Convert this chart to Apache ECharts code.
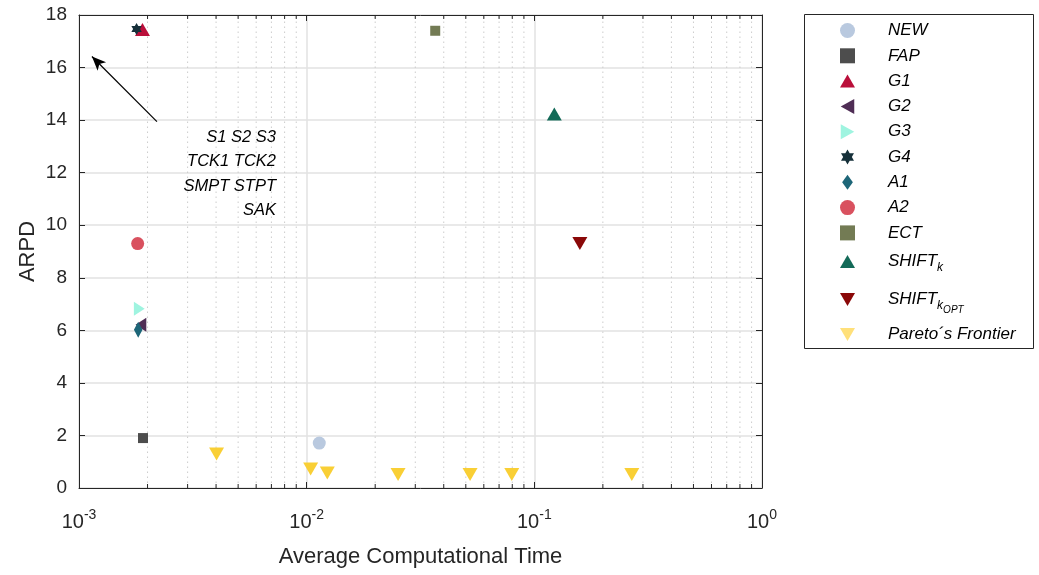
<!DOCTYPE html>
<html>
<head>
<meta charset="utf-8">
<script src="https://cdn.jsdelivr.net/npm/echarts@6/dist/echarts.min.js"></script>
<style>html,body{margin:0;padding:0;background:#fff}#c{width:1039px;height:575px}</style>
</head>
<body>
<div id="c"></div>
<script>
// ---- data ----
const seriesNames = ['NEW','FAP','G1','G2','G3','G4','A1','A2','ECT','SHIFT_k','SHIFT_kOPT','Pareto\u00b4s Frontier'];
const newPts = [[0.01136, 1.71]];
const fapPts = [[0.00191, 1.90]];
const g1Pts = [[0.00190, 17.45]];
const g2Pts = [[0.00187, 6.21]];
const g3Pts = [[0.00184, 6.82]];
const g4Pts = [[0.00179, 17.47]];
const a1Pts = [[0.00182, 6.02]];
const a2Pts = [[0.00181, 9.30]];
const ectPts = [[0.0367, 17.40]];
const shiftKPts = [[0.1224, 14.23]];
const shiftKOptPts = [[0.1585, 9.30]];
const paretoPts = [[0.00402, 1.29], [0.01041, 0.72], [0.01232, 0.57], [0.0252, 0.51], [0.0522, 0.51], [0.0796, 0.51], [0.268, 0.51]];
const yTicks = [0, 2, 4, 6, 8, 10, 12, 14, 16, 18];
const xMajorTicks = [0.001, 0.01, 0.1, 1];
const xMinorTicks = [0.002,0.003,0.004,0.005,0.006,0.007,0.008,0.009,
                     0.02,0.03,0.04,0.05,0.06,0.07,0.08,0.09,
                     0.2,0.3,0.4,0.5,0.6,0.7,0.8,0.9];
const arrowFrom = [0.0022, 13.94];
const arrowTo = [0.00114, 16.42];
const annotationLines = ['S1 S2 S3', 'TCK1 TCK2', 'SMPT STPT', 'SAK'];

// ---- chart ----
const FONT = '"Liberation Sans", Arial, Helvetica, sans-serif';
const AX = '#262626';
const chart = echarts.init(document.getElementById('c'), null, {renderer: 'canvas'});

const TRI_UP = 'path://M5,0 L10,8.66 L0,8.66 Z';
const TRI_LEFT = 'path://M0,5 L9,0 L9,10 Z';
const TRI_RIGHT = 'path://M9,5 L0,0 L0,10 Z';
const TRI_DOWN = 'path://M0,0 L10,0 L5,8.66 Z';
const DIAMOND = 'path://M5,0 L10,7 L5,14 L0,7 Z';
const STAR6 = 'path://M0,-10 L2.9,-5 L8.66,-5 L5.8,0 L8.66,5 L2.9,5 L0,10 L-2.9,5 L-8.66,5 L-5.8,0 L-8.66,-5 L-2.9,-5 Z';

function sc(name, data, symbol, size, color) {
  return {
    name: name, type: 'scatter', data: data, symbol: symbol, symbolSize: size,
    symbolKeepAspect: true, itemStyle: {color: color, opacity: 1}, z: 5,
    emphasis: {disabled: true}
  };
}

const legendRich = {
  n: {fontSize: 17, fontStyle: 'italic', fontFamily: FONT, color: '#000'},
  s: {fontSize: 12, fontStyle: 'italic', fontFamily: FONT, color: '#000', padding: [12, 0, 0, 0]},
  ss: {fontSize: 10, fontStyle: 'italic', fontFamily: FONT, color: '#000', padding: [22, 0, 0, 0]}
};
function legendFmt(name) {
  if (name === 'SHIFT_k') return '{n|SHIFT}{s|k}';
  if (name === 'SHIFT_kOPT') return '{n|SHIFT}{s|k}{ss|OPT}';
  return '{n|' + name + '}';
}
function mkLegend(names, top, gap) {
  return {
    data: names.map(n => n === 'Pareto\u00b4s Frontier' ? {name: n, itemStyle: {color: '#FFE07A'}} : n),
    orient: 'vertical', left: 840, top: top, itemWidth: 15, itemHeight: 15, itemGap: gap,
    selectedMode: false, formatter: legendFmt, padding: 0,
    textStyle: {rich: legendRich, fontSize: 17, fontStyle: 'italic', fontFamily: FONT, color: '#000',
                padding: [0, 0, 0, 28]}
  };
}

const option = {
  animation: false,
  backgroundColor: '#fff',
  grid: {left: 79, right: 277, top: 15, bottom: 87},
  legend: [
    mkLegend(seriesNames.slice(0, 9), 22, 8.3),
    mkLegend(['SHIFT_k'], 253, 0),
    mkLegend(['SHIFT_kOPT'], 291, 0),
    mkLegend(['Pareto\u00b4s Frontier'], 326, 0)
  ],
  xAxis: [{
    type: 'log', logBase: 10, min: 0.001, max: 1, position: 'bottom',
    name: 'Average Computational Time', nameLocation: 'middle', nameGap: 58,
    nameTextStyle: {fontSize: 22, fontFamily: FONT, color: AX},
    axisLine: {show: true, onZero: false, lineStyle: {color: AX, width: 1}},
    axisTick: {show: true, inside: true, length: 6, lineStyle: {color: AX}},
    axisLabel: {
      margin: 20, fontFamily: FONT, color: AX,
      formatter: v => '{b|10}{e|' + Math.round(Math.log10(v)) + '}',
      rich: {
        b: {fontSize: 20, fontFamily: FONT, color: AX, verticalAlign: 'bottom', lineHeight: 24},
        e: {fontSize: 14, fontFamily: FONT, color: AX, verticalAlign: 'top', padding: [0, 0, 12, 0], lineHeight: 24}
      }
    },
    splitLine: {show: true, lineStyle: {color: '#e2e2e2', width: 1.5}}
  }, {
    type: 'log', logBase: 10, min: 0.001, max: 1, position: 'top',
    axisLine: {show: true, onZero: false, lineStyle: {color: AX, width: 1}},
    axisTick: {show: true, inside: true, length: 6, lineStyle: {color: AX}},
    axisLabel: {show: false}, splitLine: {show: false}
  }],
  yAxis: [{
    type: 'value', min: 0, max: 18, interval: 2, position: 'left',
    name: 'ARPD', nameLocation: 'middle', nameGap: 40, nameMoveOverlap: false,
    nameTextStyle: {fontSize: 22, fontFamily: FONT, color: AX},
    axisLine: {show: true, onZero: false, lineStyle: {color: AX, width: 1}},
    axisTick: {show: true, inside: true, length: 6, lineStyle: {color: AX}},
    axisLabel: {fontSize: 19, fontFamily: FONT, color: AX, margin: 12},
    splitLine: {show: true, lineStyle: {color: '#e2e2e2', width: 1.5}}
  }, {
    type: 'value', min: 0, max: 18, interval: 2, position: 'right',
    axisLine: {show: true, onZero: false, lineStyle: {color: AX, width: 1}},
    axisTick: {show: true, inside: true, length: 6, lineStyle: {color: AX}},
    axisLabel: {show: false}, splitLine: {show: false}
  }],
  series: [
    {
      type: 'custom', name: 'minor', silent: true, z: 1,
      data: xMinorTicks.map(v => [v, 0]),
      renderItem: function (params, api) {
        const v = api.value(0);
        const b = api.coord([v, 0]);
        const t = api.coord([v, 18]);
        return {type: 'group', children: [
          {type: 'line', shape: {x1: b[0], y1: b[1], x2: t[0], y2: t[1]},
           style: {stroke: '#cccccc', lineWidth: 1, lineDash: [1.5, 3.5]}},
          {type: 'line', shape: {x1: b[0], y1: b[1], x2: b[0], y2: b[1] - 4},
           style: {stroke: AX, lineWidth: 1}},
          {type: 'line', shape: {x1: t[0], y1: t[1], x2: t[0], y2: t[1] + 4},
           style: {stroke: AX, lineWidth: 1}}
        ]};
      }
    },
    {
      type: 'line', name: 'arrow', data: [], silent: true, z: 4,
      markLine: {
        silent: true, symbol: ['none', 'arrow'], symbolSize: [9, 14],
        label: {show: false},
        lineStyle: {color: '#000', width: 1.2, type: 'solid'},
        data: [[{coord: arrowFrom}, {coord: arrowTo}]],
        animation: false
      }
    },
    sc('NEW', newPts, 'circle', 13, '#B9C9DF'),
    sc('FAP', fapPts, 'rect', 10, '#4D4D4D'),
    sc('G1', g1Pts, TRI_UP, 15, '#BA0F3A'),
    sc('G2', g2Pts, TRI_LEFT, [12, 14], '#4F2D55'),
    sc('G3', g3Pts, TRI_RIGHT, [12, 14], '#9FF4E0'),
    sc('G4', g4Pts, STAR6, 12, '#16303A'),
    sc('A1', a1Pts, DIAMOND, [12, 16], '#1D6678'),
    sc('A2', a2Pts, 'circle', 13, '#D9515F'),
    sc('ECT', ectPts, 'rect', 10, '#737B54'),
    sc('SHIFT_k', shiftKPts, TRI_UP, 15, '#136A58'),
    sc('SHIFT_kOPT', shiftKOptPts, TRI_DOWN, 15, '#8A0808'),
    sc('Pareto\u00b4s Frontier', paretoPts, TRI_DOWN, 15, '#F9CF35')
  ],
  graphic: [
    {type: 'rect', left: 804, top: 14, z: 0,
     shape: {width: 229, height: 334}, style: {fill: '#fff', stroke: AX, lineWidth: 1}},
    {type: 'text', right: 1039 - 276, top: 125, z: 10,
     style: {text: annotationLines.join('\n'), font: 'italic 16.5px ' + FONT, fill: '#000',
             textAlign: 'right', lineHeight: 24.5}}
  ]
};
chart.setOption(option);
</script>
</body>
</html>
